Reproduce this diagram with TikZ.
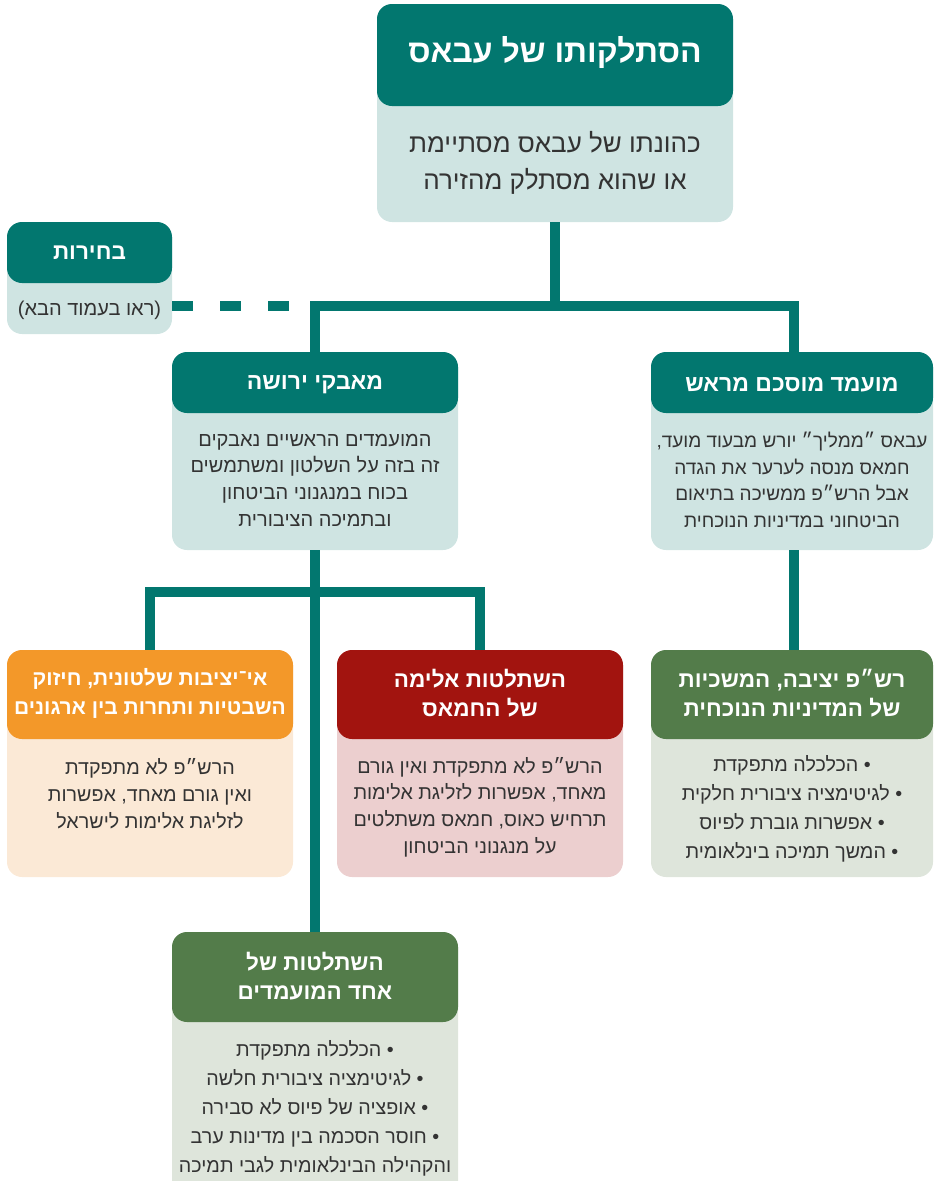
\documentclass[tikz,border=0pt]{standalone}
\usepackage{fontspec}
\newfontfamily\heb[Script=Hebrew]{Liberation Sans}
\TeXXeTstate=1
\newcommand\rtl[1]{\beginR #1\endR}
\definecolor{cTeal}{RGB}{2,119,111}
\definecolor{cTealL}{RGB}{207,228,226}
\definecolor{cOrange}{RGB}{243,152,41}
\definecolor{cOrangeL}{RGB}{251,233,214}
\definecolor{cRed}{RGB}{162,20,15}
\definecolor{cRedL}{RGB}{236,207,207}
\definecolor{cGreen}{RGB}{83,124,74}
\definecolor{cGreenL}{RGB}{222,229,219}
\definecolor{cText}{RGB}{51,51,51}
\begin{document}
\begin{tikzpicture}[x=1pt,y=-1pt,
  card/.style={rectangle, rounded corners=15pt, inner sep=0pt, draw=none},
  htext/.style={text=white, font=\heb\bfseries\fontsize{22.5}{29}\selectfont, align=center, inner sep=0pt},
  btext/.style={text=cText, font=\heb\fontsize{19.7}{26.7}\selectfont, align=center, inner sep=0pt},
  ltext/.style={text=cText, font=\heb\fontsize{19.7}{29}\selectfont, align=center, inner sep=0pt},
  conn/.style={draw=cTeal, line width=9.5pt}
]
\useasboundingbox (0,0) rectangle (934,1181);

% top box
\node[card, fill=cTealL, minimum width=356pt, minimum height=218pt] (topb) at (555,113) {};
\node[card, fill=cTeal, minimum width=356pt, minimum height=102pt] (toph) at (555,55) {};
\node[htext, font=\heb\bfseries\fontsize{32}{36}\selectfont] (topht) at (555,52) {\rtl{הסתלקותו של עבאס}};
\node[btext, font=\heb\fontsize{26}{37}\selectfont] (topbt) at (555,163) {\rtl{כהונתו של עבאס מסתיימת}\\\rtl{או שהוא מסתלק מהזירה}};

% elections box
\node[card, fill=cTealL, minimum width=165pt, minimum height=112pt] (selb) at (89.5,278) {};
\node[card, fill=cTeal, minimum width=165pt, minimum height=61pt] (selh) at (89.5,252.5) {};
\node[htext] (selht) at (89.5,253) {\rtl{בחירות}};
\node[btext, font=\heb\fontsize{20}{26}\selectfont] (selbt) at (89.5,310) {\rtl{(ראו בעמוד הבא)}};

% succession box
\node[card, fill=cTealL, minimum width=286pt, minimum height=198pt] (succb) at (315,451) {};
\node[card, fill=cTeal, minimum width=286pt, minimum height=61pt] (succh) at (315,382.5) {};
\node[htext, font=\heb\bfseries\fontsize{23}{29}\selectfont] (succht) at (315,385) {\rtl{מאבקי ירושה}};
\node[btext, font=\heb\fontsize{20}{26.7}\selectfont] (succbt) at (315,480) {\rtl{המועמדים הראשיים נאבקים}\\\rtl{זה בזה על השלטון ומשתמשים}\\\rtl{בכוח במנגנוני הביטחון}\\\rtl{ובתמיכה הציבורית}};

% agreed candidate box
\node[card, fill=cTealL, minimum width=282pt, minimum height=198pt] (agrb) at (792,451) {};
\node[card, fill=cTeal, minimum width=282pt, minimum height=61pt] (agrh) at (792,382.5) {};
\node[htext, font=\heb\bfseries\fontsize{23}{29}\selectfont] (agrht) at (792,385) {\rtl{מועמד מוסכם מראש}};
\node[btext, font=\heb\fontsize{19}{26.7}\selectfont] (agrbt) at (792,480) {\rtl{עבאס ״ממליך״ יורש מבעוד מועד,}\\\rtl{חמאס מנסה לערער את הגדה}\\\rtl{אבל הרש״פ ממשיכה בתיאום}\\\rtl{הביטחוני במדיניות הנוכחית}};

% orange box
\node[card, fill=cOrangeL, minimum width=286pt, minimum height=227pt] (orb) at (150,763.5) {};
\node[card, fill=cOrange, minimum width=286pt, minimum height=89pt] (orh) at (150,694.5) {};
\node[htext, font=\heb\bfseries\fontsize{21}{29}\selectfont] (orht) at (150,693.5) {\rtl{אי־יציבות שלטונית, חיזוק}\\\rtl{השבטיות ותחרות בין ארגונים}};
\node[btext] (orbt) at (150,793.5) {\rtl{הרש״פ לא מתפקדת}\\\rtl{ואין גורם מאחד, אפשרות}\\\rtl{לזליגת אלימות לישראל}};

% red box
\node[card, fill=cRedL, minimum width=286pt, minimum height=227pt] (redb) at (480,763.5) {};
\node[card, fill=cRed, minimum width=286pt, minimum height=89pt] (redh) at (480,694.5) {};
\node[htext] (redht) at (480,693.5) {\rtl{השתלטות אלימה}\\\rtl{של החמאס}};
\node[btext] (redbt) at (480,807) {\rtl{הרש״פ לא מתפקדת ואין גורם}\\\rtl{מאחד, אפשרות לזליגת אלימות}\\\rtl{תרחיש כאוס, חמאס משתלטים}\\\rtl{על מנגנוני הביטחון}};

% green right box
\node[card, fill=cGreenL, minimum width=282pt, minimum height=227pt] (gsb) at (792,763.5) {};
\node[card, fill=cGreen, minimum width=282pt, minimum height=89pt] (gsh) at (792,694.5) {};
\node[htext] (gsht) at (792,693.5) {\rtl{רש״פ יציבה, המשכיות}\\\rtl{של המדיניות הנוכחית}};
\node[ltext] (gsbt) at (792,808.5) {\rtl{• הכלכלה מתפקדת}\\\rtl{• לגיטימציה ציבורית חלקית}\\\rtl{• אפשרות גוברת לפיוס}\\\rtl{• המשך תמיכה בינלאומית}};

% green bottom box
\node[card, fill=cGreenL, minimum width=286pt, minimum height=268pt] (gbb) at (315,1066) {};
\node[card, fill=cGreen, minimum width=286pt, minimum height=90pt] (gbh) at (315,977) {};
\node[htext] (gbht) at (315,976) {\rtl{השתלטות של}\\\rtl{אחד המועמדים}};
\node[ltext] (gbbt) at (315,1108.5) {\rtl{• הכלכלה מתפקדת}\\\rtl{• לגיטימציה ציבורית חלשה}\\\rtl{• אופציה של פיוס לא סבירה}\\\rtl{• חוסר הסכמה בין מדינות ערב}\\\rtl{והקהילה הבינלאומית לגבי תמיכה}};

% connectors
\coordinate (j1) at (555,306);
\draw[conn] (topb.south) -- (j1);
\draw[conn] (succh.north) -- (succh.north |- j1) -| ([xshift=2pt]agrh.north);
\draw[conn, dash pattern=on 21pt off 27pt] (selb.east |- j1) -- (succh.north |- j1);
\coordinate (j2) at (315,592);
\draw[conn] (succb.south) -- (gbh.north);
\draw[conn] (orh.north) -- (orh.north |- j2) -| (redh.north);
\draw[conn] ([xshift=2pt]agrb.south) -- ([xshift=2pt]gsh.north);
\end{tikzpicture}
\end{document}
